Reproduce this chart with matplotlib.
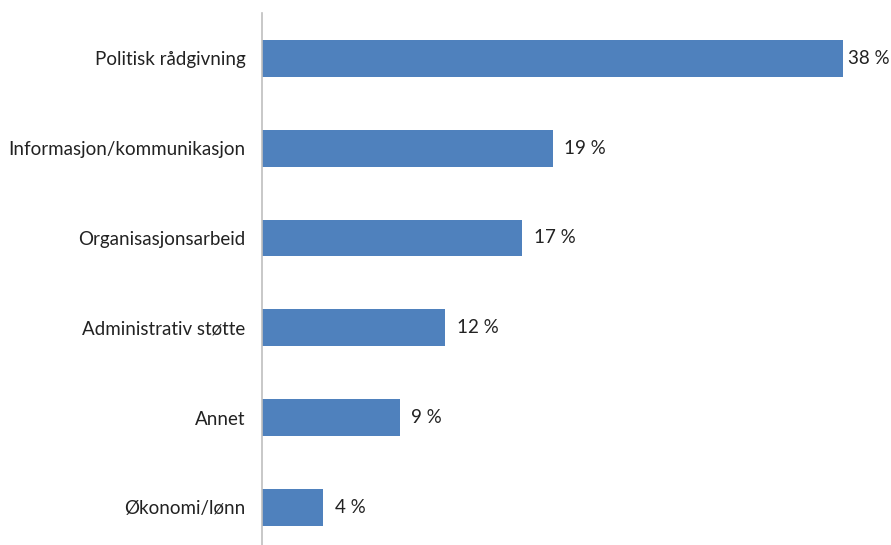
import matplotlib.pyplot as plt

kategorier = ["Politisk rådgivning", "Informasjon/kommunikasjon", "Organisasjonsarbeid",
              "Administrativ støtte", "Annet", "Økonomi/lønn"]
andeler = [38, 19, 17, 12, 9, 4]

plt.rcParams['font.family'] = ['Lato', 'DejaVu Sans']

fig = plt.figure(figsize=(8.91, 5.45), dpi=100)
ax = fig.add_axes([262 / 891, -7.4 / 545, 611.6 / 891, 539 / 545])

pos = list(range(len(kategorier)))
stolper = ax.barh(pos, andeler, height=0.41, color='#4F81BD')
ax.set_ylim(len(kategorier) - 0.5, -0.5)
ax.set_xlim(0, 40)

ax.set_yticks(pos)
ax.set_yticklabels(kategorier, fontsize=13.5, color='#222222')
ax.tick_params(axis='y', length=0, pad=12)
ax.set_xticks([])

for b, v in zip(stolper, andeler):
    # den lengste stolpen går nesten til kanten, så etiketten flyttes litt inn
    dx = 3.5 if v == max(andeler) else 8.5
    ax.annotate(f"{v} %", (b.get_width(), b.get_y() + b.get_height() / 2),
                xytext=(dx, 0), textcoords='offset points', va='center', ha='left',
                fontsize=13.5, color='#222222')

for s in ['top', 'right', 'bottom']:
    ax.spines[s].set_visible(False)
ax.spines['left'].set_color('#BFBFBF')
ax.spines['left'].set_linewidth(1.2)

fig.savefig('out.png', dpi=100)
